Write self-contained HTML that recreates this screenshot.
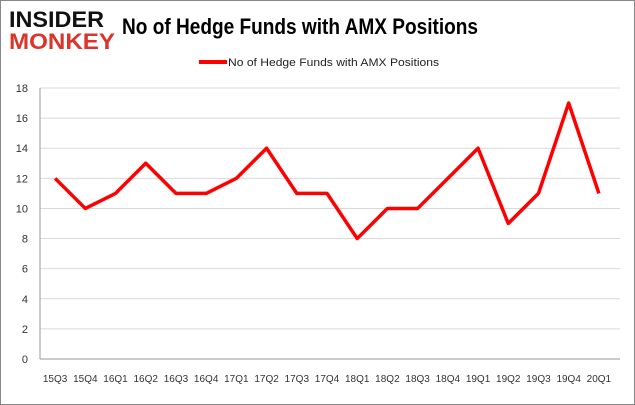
<!DOCTYPE html>
<html><head><meta charset="utf-8"><style>
body{margin:0;background:#fff;}
svg{display:block;font-family:"Liberation Sans",sans-serif;}
</style></head><body>
<svg id="c" width="635" height="405">
<rect x="0.5" y="0.5" width="634" height="404" fill="#fff" stroke="#888"/>
<g>
<text x="9" y="27" font-size="22" font-weight="bold" fill="#111" textLength="95" lengthAdjust="spacingAndGlyphs">INSIDER</text>
<text x="9" y="49" font-size="22" font-weight="bold" fill="#d9352b" textLength="106" lengthAdjust="spacingAndGlyphs">MONKEY</text>
</g>
<text x="122" y="34" font-size="22" font-weight="bold" fill="#000" textLength="356" lengthAdjust="spacingAndGlyphs">No of Hedge Funds with AMX Positions</text>
<line x1="199" y1="62" x2="227" y2="62" stroke="#f00" stroke-width="4"/>
<text x="228" y="66" font-size="11" fill="#222" textLength="211" lengthAdjust="spacingAndGlyphs">No of Hedge Funds with AMX Positions</text>
<g id="grid"></g><g id="axes"></g><g id="series"></g>
</svg>
<script>
const categories=["15Q3","15Q4","16Q1","16Q2","16Q3","16Q4","17Q1","17Q2","17Q3","17Q4","18Q1","18Q2","18Q3","18Q4","19Q1","19Q2","19Q3","19Q4","20Q1"];
const values=[12,10,11,13,11,11,12,14,11,11,8,10,10,12,14,9,11,17,11];
const yTicks=[0,2,4,6,8,10,12,14,16,18];
const NS="http://www.w3.org/2000/svg";
const L=40,R=614,T=88,B=359,YMAX=18;
const y=v=>B-(v/YMAX)*(B-T);
const bw=(R-L)/categories.length;
const x=i=>L+bw*(i+0.5);
function mk(tag,attrs,parent){const e=document.createElementNS(NS,tag);for(const k in attrs)e.setAttribute(k,attrs[k]);document.getElementById(parent).appendChild(e);return e;}
yTicks.forEach(t=>{
 const g=mk("line",{x1:L,x2:620,y1:y(t),y2:y(t),stroke:t===0?"#999":"#d9d9d9"},"grid");
 
 
 const lb=mk("text",{x:L-12,y:y(t)+4,"font-size":11,"text-anchor":"end",fill:"#333"},"axes");
 lb.textContent=t;
 
 
});
const ax=mk("line",{x1:L,x2:L,y1:T,y2:B,stroke:"#999"},"axes");


categories.forEach((c,i)=>{
 const lb=mk("text",{x:x(i),y:382,"font-size":10,"text-anchor":"middle",fill:"#333"},"axes");
 lb.textContent=c;
 
 
});
const pl=mk("polyline",{points:values.map((v,i)=>x(i)+","+y(v)).join(" "),fill:"none",stroke:"#f00","stroke-width":3.5,"stroke-linejoin":"round"},"series");


</script>
</body></html>
